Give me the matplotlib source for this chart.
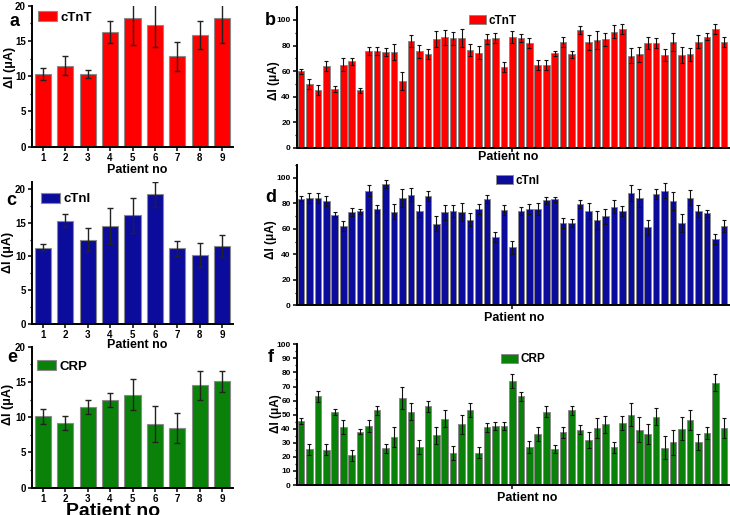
import matplotlib
matplotlib.use("Agg")
import matplotlib.pyplot as plt
import numpy as np
from matplotlib.patches import Patch
from matplotlib.ticker import MultipleLocator

plt.rcParams['font.family'] = ['Liberation Sans', 'DejaVu Sans']
plt.rcParams['font.weight'] = 'bold'

# ---------------- data ----------------
patients_small = [1, 2, 3, 4, 5, 6, 7, 8, 9]

a_vals = [10.3, 11.5, 10.3, 16.3, 18.2, 17.2, 12.8, 15.8, 18.2]
a_err = [0.9, 1.3, 0.6, 1.6, 3.8, 3.0, 2.1, 2.0, 3.5]

c_vals = [11.3, 15.3, 12.5, 14.5, 16.1, 19.2, 11.2, 10.2, 11.5]
c_err = [0.55, 1.0, 1.75, 2.7, 2.6, 1.9, 1.1, 1.8, 1.65]

e_vals = [10.1, 9.2, 11.5, 12.5, 13.2, 9.1, 8.5, 14.5, 15.1]
e_err = [1.0, 1.0, 1.0, 1.0, 2.15, 2.55, 2.1, 2.0, 1.5]

b_vals = [60, 50, 45, 64, 46, 65, 67.6, 45, 75.7, 75.7, 75, 75, 52.5, 83.5, 75.5,
          73.6, 85, 86.4, 85.6, 85.6, 76.5, 74.4, 85.4, 86, 63, 86.7, 86, 82, 64.5,
          64.5, 74, 83, 73, 92, 82.5, 84, 85, 90.8, 93, 72, 73, 82, 82, 72.6, 82.8,
          72.6, 73, 83, 87, 93, 83]
b_err = [2, 4, 4, 4, 2, 5, 3, 2, 3, 3, 3, 6, 7, 5, 5, 4, 6, 6, 5, 7, 5, 5, 4,
         4, 4, 5, 3, 4, 4, 4, 2, 4, 3, 3, 6, 7, 5, 5, 4, 6, 6, 5, 4, 5, 7, 6, 5,
         5, 3, 4, 4]

d_vals = [83.6, 84, 84, 82, 71, 62, 73, 73.7, 90, 75.3, 95.3, 73.4, 84, 86.7, 74,
          85.7, 64, 73, 74, 73, 67, 75.3, 83.3, 53.6, 75, 45.6, 74, 75.5, 75.5,
          82.3, 83.3, 64.6, 64.3, 79.4, 74, 67.2, 69.8, 77.3, 74, 88, 84.4, 61, 87,
          90, 82, 64.6, 84.4, 74, 72, 52, 62.2]
d_err = [2, 4, 4, 4, 2, 4, 3, 2, 4, 3, 3, 6, 7, 5, 5, 4, 6, 6, 5, 7, 5, 4, 3,
         4, 4, 5, 3, 4, 5, 3, 2, 4, 3, 3, 6, 7, 6, 5, 4, 6, 7, 6, 4, 6, 7, 7, 6,
         5, 3, 4, 5]

f_vals = [45.5, 25.4, 63, 25, 52, 41, 21, 38, 42, 53, 26, 34, 62, 52, 27, 56, 35.3,
          47, 23, 43, 53, 23, 41, 42, 42, 74, 63, 27, 36, 52, 25.4, 37.4, 53, 39.3,
          32, 40.3, 43, 26.8, 44, 50, 39.3, 36.2, 48.6, 26.5, 30.3, 40, 46.4, 30.6,
          37, 72.7, 40.3]
f_err = [2, 4, 4, 4, 2, 5, 4, 2, 4, 3, 3, 7, 8, 6, 5, 4, 6, 6, 5, 7, 5, 4, 3,
         3, 3, 5, 3, 4, 5, 4, 3, 4, 3, 3, 6, 7, 6, 4, 5, 8, 9, 7, 6, 8, 9, 8, 7,
         6, 4, 6, 7]

RED = '#FF0000'
BLUE = '#0C0C9C'
GREEN = '#0A820A'

fig = plt.figure(figsize=(7.3, 5.15), dpi=100)

def px_axes(l, t, r, b):
    W, H = 730.0, 515.0
    ax = fig.add_axes([l / W, 1 - b / H, (r - l) / W, (b - t) / H])
    ax.patch.set_visible(False)
    return ax

ax_a = px_axes(31.7, 5.7, 233.3, 146.7)
ax_b = px_axes(296.7, 7.2, 728.5, 147.7)
ax_c = px_axes(31.7, 182.3, 233.3, 323.7)
ax_d = px_axes(296.7, 165.0, 728.5, 305.3)
ax_e = px_axes(31.7, 346.7, 233.3, 487.7)
ax_f = px_axes(296.7, 344.3, 728.5, 485.0)

def style(ax, small):
    for s in ['top', 'right']:
        ax.spines[s].set_visible(False)
    for s in ['left', 'bottom']:
        ax.spines[s].set_linewidth(1.4)
    ax.tick_params(axis='both', which='major', direction='out', length=3, width=1.1,
                   labelsize=7 if small else 6, pad=1.2)
    ax.tick_params(axis='both', which='minor', direction='out', length=1.8, width=0.9)
    for lab in ax.get_xticklabels() + ax.get_yticklabels():
        lab.set_fontweight('bold')

def draw_small(ax, vals, errs, color, ymax, label, leg_xy, ylab_xy, xlab_xy, xlab_size=9):
    ax.bar(patients_small, vals, width=0.72, color=color, edgecolor='#8a8a8a',
           linewidth=0.8, label=label, zorder=2)
    ax.errorbar(patients_small, vals, yerr=errs, fmt='none', ecolor='#222222',
                elinewidth=1.0, capsize=2, capthick=1.0, zorder=3)
    ax.set_xlim(0.5, 9.5)
    ax.set_ylim(0, ymax)
    ax.set_xticks(patients_small)
    ax.yaxis.set_major_locator(MultipleLocator(5))
    ax.yaxis.set_minor_locator(MultipleLocator(2.5))
    style(ax, True)
    ax.set_ylabel('ΔI (μA)', fontsize=9, fontweight='bold')
    ax.yaxis.set_label_coords(*ylab_xy)
    ax.set_xlabel('Patient no', fontsize=xlab_size, fontweight='bold')
    ax.xaxis.set_label_coords(*xlab_xy)
    ax.legend(handles=[Patch(facecolor=color, edgecolor='#8a8a8a', linewidth=0.8)],
              labels=[label], loc='upper left', bbox_to_anchor=leg_xy, frameon=False,
              handlelength=1.45, handleheight=0.75, handletextpad=0.25, borderpad=0,
              borderaxespad=0, prop={'weight': 'bold', 'size': 9.5})

def draw_big(ax, vals, errs, color, ymax, major, minor, label, leg_xy, ylab_xy, xlab_xy):
    x = np.arange(1, len(vals) + 1)
    ax.bar(x, vals, width=0.78, color=color, edgecolor='#8a8a8a', linewidth=0.7,
           label=label, zorder=2)
    ax.errorbar(x, vals, yerr=errs, fmt='none', ecolor='#111111', elinewidth=0.8,
                capsize=1.5, capthick=0.8, zorder=3)
    ax.set_xlim(0.5, len(vals) + 0.55)
    ax.set_ylim(0, ymax)
    ax.set_xticks([26])
    ax.set_xticklabels([''])
    ax.yaxis.set_major_locator(MultipleLocator(major))
    ax.yaxis.set_minor_locator(MultipleLocator(minor))
    style(ax, False)
    ax.set_ylabel('ΔI (μA)', fontsize=8.5, fontweight='bold')
    ax.yaxis.set_label_coords(*ylab_xy)
    ax.set_xlabel('Patient no', fontsize=9, fontweight='bold')
    ax.xaxis.set_label_coords(*xlab_xy)
    ax.legend(handles=[Patch(facecolor=color, edgecolor='#8a8a8a', linewidth=0.7)],
              labels=[label], loc='upper left', bbox_to_anchor=leg_xy, frameon=False,
              handlelength=1.45, handleheight=0.75, handletextpad=0.2, borderpad=0,
              borderaxespad=0, prop={'weight': 'bold', 'size': 8.5})

draw_small(ax_a, a_vals, a_err, RED, 20, 'cTnT', (0.031, 0.96), (-0.08, 0.565), (0.525, -0.125))
draw_small(ax_c, c_vals, c_err, BLUE, 21, 'cTnI', (0.046, 0.925), (-0.086, 0.507), (0.523, -0.105))
draw_small(ax_e, e_vals, e_err, GREEN, 20, 'CRP', (0.026, 0.905), (-0.086, 0.594), (0.404, -0.108), xlab_size=14)

draw_big(ax_b, b_vals, b_err, RED, 110, 20, 10, 'cTnT', (0.3995, 0.945), (-0.039, 0.475), (0.49, -0.02))
draw_big(ax_d, d_vals, d_err, BLUE, 110, 20, 10, 'cTnI', (0.462, 0.93), (-0.046, 0.465), (0.504, -0.045))
draw_big(ax_f, f_vals, f_err, GREEN, 100, 10, 5, 'CRP', (0.4737, 0.935), (-0.034, 0.505), (0.534, -0.048))

# panel letters
for letter, (px, py) in zip('abcdef', [(14, 21.7), (270.7, 20.7), (11.5, 200.5),
                                       (270.7, 198), (12.5, 358), (270.7, 358)]):
    fig.text(px / 730.0, 1 - py / 515.0, letter, fontsize=13, fontweight='bold',
             ha='center', va='center')

fig.savefig('out.png', dpi=100)
